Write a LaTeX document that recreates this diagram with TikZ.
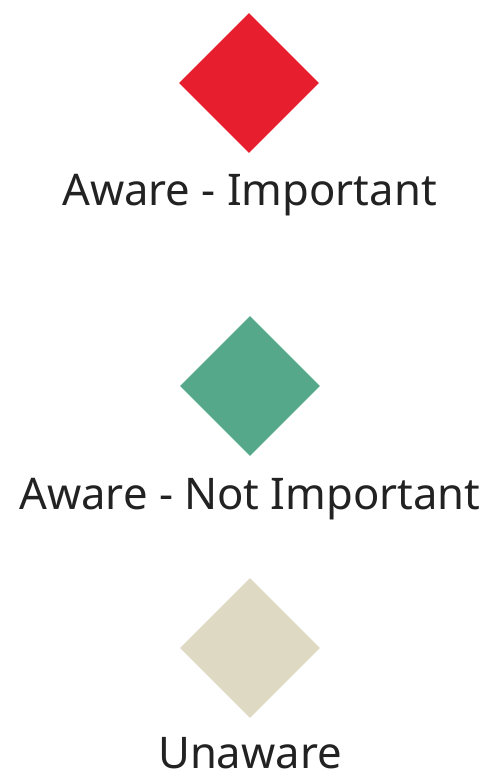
\documentclass[tikz,border=0pt]{standalone}
\usepackage{fontspec}
\setmainfont{Noto Sans}
\usetikzlibrary{shapes.geometric}
\definecolor{awareimp}{HTML}{E61E2D}
\definecolor{awarenot}{HTML}{55A98A}
\definecolor{unaware}{HTML}{DDD9C3}
\definecolor{labeltext}{HTML}{222222}
\tikzset{
  keymark/.style={diamond, minimum width=3.5cm, minimum height=3.5cm,
    inner sep=0pt, draw=none},
  keylabel/.style={anchor=base, text=labeltext, inner sep=0pt,
    font=\fontsize{31}{37}\selectfont}
}
\begin{document}
\begin{tikzpicture}[x=0.025cm, y=-0.025cm]
  % canvas 488 x 777 px
  \useasboundingbox (0, 0) rectangle (488, 777);
  % Legend markers
  \node[keymark, fill=awareimp] (impmark) at (249, 83) {};
  \node[keymark, fill=awarenot] (notmark) at (250, 386) {};
  \node[keymark, fill=unaware]  (unmark)  at (250, 648) {};
  % Legend labels
  \node[keylabel] (implabel) at (249.5, 205) {Aware - Important};
  \node[keylabel] (notlabel) at (250, 509) {Aware - Not Important};
  \node[keylabel] (unlabel)  at (250, 768) {Unaware};
\end{tikzpicture}
\end{document}
